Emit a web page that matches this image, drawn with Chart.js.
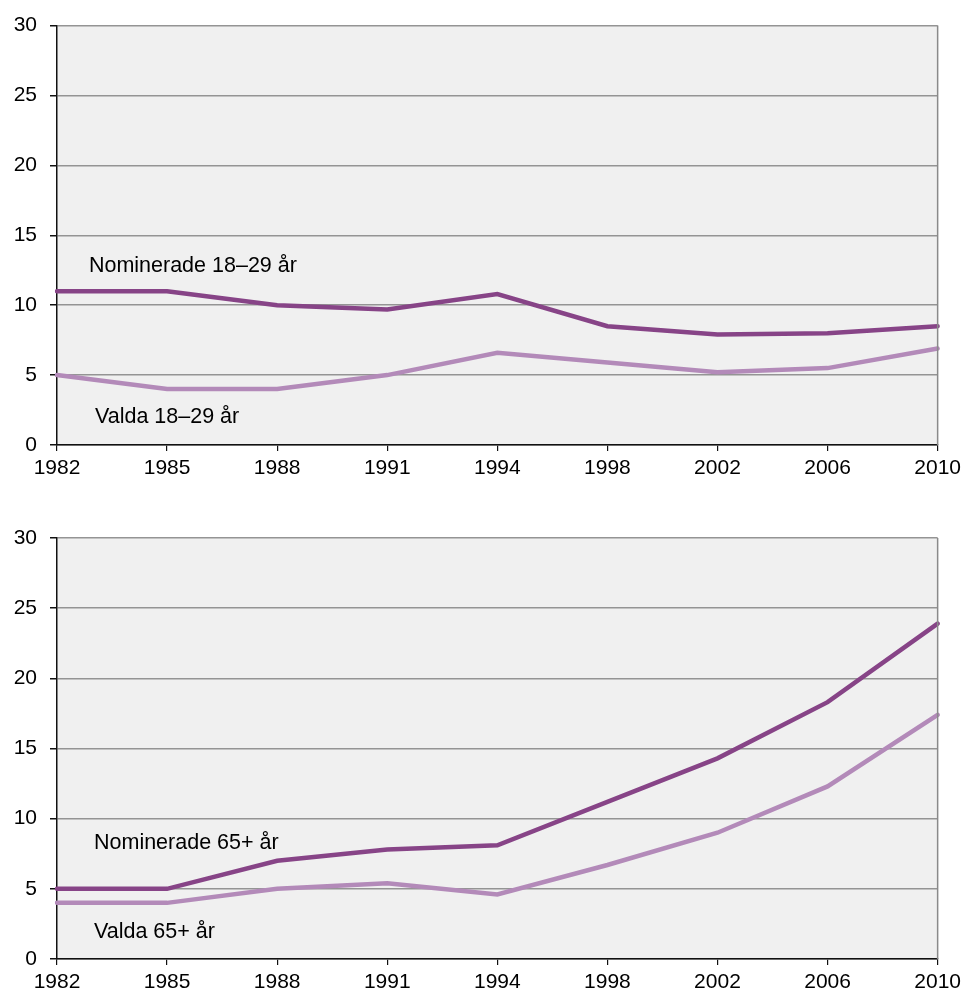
<!DOCTYPE html>
<html>
<head>
<meta charset="utf-8">
<script src="https://cdn.jsdelivr.net/npm/chart.js@4"></script>
<style>
  html, body { margin: 0; padding: 0; background: #fff; }
  .panel { position: absolute; left: 0; width: 966px; }
</style>
</head>
<body>
<div class="panel" style="top:0;height:490px;"><canvas id="youngChart" width="966" height="490"></canvas></div>
<div class="panel" style="top:490px;height:504px;"><canvas id="oldChart" width="966" height="504"></canvas></div>
<script>
// values (percent)
const years = ['1982', '1985', '1988', '1991', '1994', '1998', '2002', '2006', '2010'];
const nominerade1829 = [11, 11, 10, 9.7, 10.8, 8.5, 7.9, 8.0, 8.5];
const valda1829 = [5, 4, 4, 5, 6.6, 5.9, 5.2, 5.5, 6.9];
const nominerade65 = [5, 5, 7, 7.8, 8.1, 11.2, 14.3, 18.3, 23.9];
const valda65 = [4, 4, 5, 5.4, 4.6, 6.7, 9.0, 12.3, 17.4];
const yMin = 0, yMax = 30, yStep = 5;

const DARK = '#874487';
const LIGHT = '#b38ab9';
const FONT = 'Arial, "Liberation Sans", sans-serif';

// background + right frame + in-plot labels
const panelPlugin = {
	id: 'panelDecor',
	beforeDraw: (chart) => {
		const { ctx, chartArea: a } = chart;
		ctx.save();
		ctx.fillStyle = '#f0f0f0';
		ctx.fillRect(a.left, a.top, a.right - a.left, a.bottom - a.top);
		ctx.restore();
	},
	afterDraw: (chart, args, opts) => {
		const { ctx, chartArea: a, scales } = chart;
		ctx.save();
		ctx.strokeStyle = '#8a8a8a';
		ctx.lineWidth = 1.5;
		ctx.beginPath();
		ctx.moveTo(a.right, a.top);
		ctx.lineTo(a.right, a.bottom);
		ctx.stroke();

		ctx.fillStyle = '#000';
		ctx.font = `21.5px ${FONT}`;
		ctx.textAlign = 'left';
		ctx.textBaseline = 'alphabetic';
		(opts.texts || []).forEach(t => {
			ctx.fillText(t.text, scales.x.getPixelForValue(t.x), scales.y.getPixelForValue(t.y));
		});
		ctx.restore();
	}
};

function makeChart(id, nomData, valData, texts, padTop, xHeight) {
	const ctx = document.getElementById(id).getContext('2d');
	return new Chart(ctx, {
		type: 'line',
		data: {
			labels: years,
			datasets: [
				{ data: valData, borderColor: LIGHT, borderWidth: 4.5, pointRadius: 0, tension: 0, borderCapStyle: 'round' },
				{ data: nomData, borderColor: DARK, borderWidth: 4.5, pointRadius: 0, tension: 0, borderCapStyle: 'round' }
			]
		},
		options: {
			responsive: false,
			animation: false,
			layout: { padding: { top: padTop, right: 27, left: 0, bottom: 0 } },
			plugins: {
				legend: { display: false },
				tooltip: { enabled: false },
				panelDecor: { texts: texts }
			},
			scales: {
				x: {
					offset: false,
					border: { color: '#111', width: 1.5 },
					grid: { drawOnChartArea: false, drawTicks: true, tickLength: 6, tickColor: '#111', lineWidth: 1.2 },
					ticks: { color: '#000', font: { family: FONT, size: 21 }, padding: 5, maxRotation: 0, autoSkip: false },
					afterFit: (s) => { s.height = xHeight; }
				},
				y: {
					min: yMin,
					max: yMax,
					border: { color: '#111', width: 1.5 },
					grid: { color: '#949494', lineWidth: 1.5, tickLength: 7, tickColor: '#111' },
					ticks: { stepSize: yStep, color: '#000', font: { family: FONT, size: 21 }, padding: 13 },
					afterFit: (s) => { s.width = 57; }
				}
			}
		},
		plugins: [panelPlugin]
	});
}

makeChart('youngChart', nominerade1829, valda1829, [
	{ text: 'Nominerade 18\u201329 år', x: 0.29, y: 12.4 },
	{ text: 'Valda 18\u201329 år', x: 0.345, y: 1.59 }
], 24, 45);

makeChart('oldChart', nominerade65, valda65, [
	{ text: 'Nominerade 65+ år', x: 0.336, y: 7.86 },
	{ text: 'Valda 65+ år', x: 0.336, y: 1.52 }
], 48, 35);
</script>
</body>
</html>
